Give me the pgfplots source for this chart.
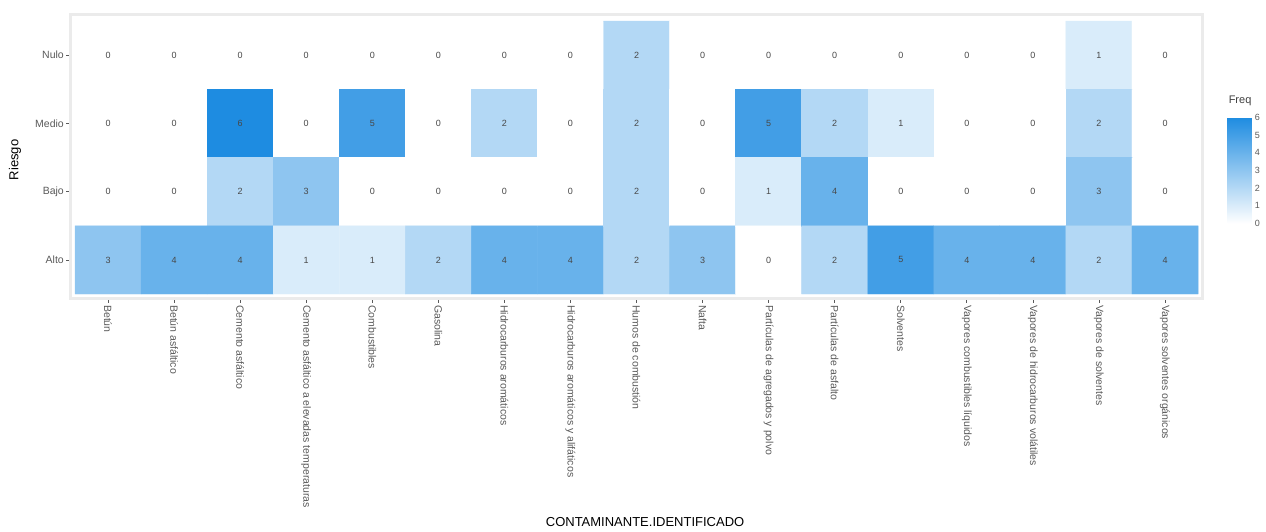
\documentclass[border=0pt]{standalone}
\usepackage{pgfplots}
\pgfplotsset{compat=1.18}
\usepackage{pgfplotstable}
\usepackage{fontspec}
\setmainfont{Liberation Sans}
\definecolor{hiblue}{RGB}{30,140,225}
\definecolor{tickgray}{RGB}{90,90,90}
\definecolor{framegray}{RGB}{235,235,235}
\pgfplotstableread{
x y c
0 3 0
1 3 0
2 3 0
3 3 0
4 3 0
5 3 0
6 3 0
7 3 0
8 3 2
9 3 0
10 3 0
11 3 0
12 3 0
13 3 0
14 3 0
15 3 1
16 3 0
0 2 0
1 2 0
2 2 6
3 2 0
4 2 5
5 2 0
6 2 2
7 2 0
8 2 2
9 2 0
10 2 5
11 2 2
12 2 1
13 2 0
14 2 0
15 2 2
16 2 0
0 1 0
1 1 0
2 1 2
3 1 3
4 1 0
5 1 0
6 1 0
7 1 0
8 1 2
9 1 0
10 1 1
11 1 4
12 1 0
13 1 0
14 1 0
15 1 3
16 1 0
0 0 3
1 0 4
2 0 4
3 0 1
4 0 1
5 0 2
6 0 4
7 0 4
8 0 2
9 0 3
10 0 0
11 0 2
12 0 5
13 0 4
14 0 4
15 0 2
16 0 4
}\datatable
\begin{document}
\begin{tikzpicture}[x=1pt,y=1pt]
\path[use as bounding box] (0,0) rectangle (1266,532);
\begin{axis}[
  at={(70pt,233pt)}, anchor=south west,
  scale only axis, width=1132pt, height=284pt,
  xmin=-0.576, xmax=16.56, ymin=-0.573, ymax=3.59,
  axis line style={framegray, line width=3pt},
  colormap={wb}{color=(white) color=(hiblue)},
  point meta min=0, point meta max=6,
  xtick={0,...,16}, ytick={0,1,2,3},
  xticklabels={Betún, Betún asfáltico, Cemento asfáltico, Cemento asfáltico a elevadas temperaturas, Combustibles, Gasolina, Hidrocarburos aromáticos, Hidrocarburos aromáticos y alifáticos, Humos de combustión, Nafta, Partículas de agregados y polvo, Partículas de asfalto, Solventes, Vapores combustibles líquidos, Vapores de hidrocarburos volátiles, Vapores de solventes, Vapores solventes orgánicos},
  yticklabels={Alto, Bajo, Medio, Nulo},
  tick align=outside, major tick length=4pt,
  tick style={tickgray, line width=0.8pt},
  xtick pos=bottom, ytick pos=left,
  xticklabel style={rotate=-90, anchor=west, font=\fontsize{10.5}{12}\selectfont, text=tickgray, inner sep=2pt},
  yticklabel style={font=\fontsize{10.5}{12}\selectfont, text=tickgray, inner sep=2pt},
  xlabel={CONTAMINANTE.IDENTIFICADO},
  xlabel style={at={(axis description cs:0.508,-0.785)}, anchor=center, font=\fontsize{13}{15}\selectfont},
  ylabel={Riesgo},
  ylabel style={at={(axis description cs:-0.0486,0.49)}, anchor=center, font=\fontsize{13}{15}\selectfont},
  colorbar,
  colorbar/width=24pt,
  colorbar style={
    at={(parent axis.south east)}, anchor=south west,
    xshift=17pt, yshift=71pt,
    scale only axis, width=24pt, height=115pt,
    ymin=-0.25, ymax=6.25,
    ytick={0,...,6},
    major tick length=0pt,
    axis line style={draw=none},
    /pgf/number format/assume math mode=true,
    yticklabel style={font=\fontsize{9}{10}\selectfont, text=tickgray, inner sep=3pt},
    title={Freq},
    title style={at={(0,1)}, anchor=south west, inner sep=1pt, font=\fontsize{11}{12}\selectfont, text=tickgray!70!black},
  },
]
\addplot[matrix plot*, mesh/cols=17, point meta=explicit, shader=flat corner] table[x=x, y=y, meta=c] {\datatable};
\addplot[only marks, mark=none, point meta=explicit symbolic,
  nodes near coords={\pgfplotspointmeta},
  nodes near coords align=center,
  every node near coord/.append style={font=\fontsize{9}{10}\selectfont, text=tickgray!80!black, anchor=center}]
  table[x=x, y=y, meta=c] {\datatable};
\end{axis}
\end{tikzpicture}
\end{document}
